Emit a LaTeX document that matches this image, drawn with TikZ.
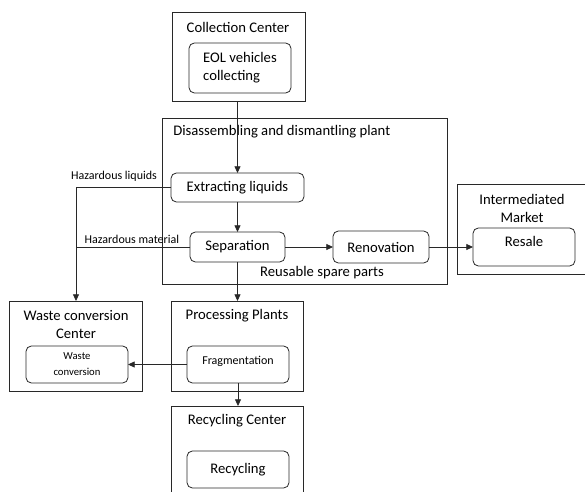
\documentclass[tikz,border=0pt]{standalone}
\usepackage{fontspec}
\setmainfont{Carlito}
\usepackage{xcolor}
\definecolor{linea}{RGB}{40, 40, 40}
\usetikzlibrary{arrows.meta, positioning}

\begin{document}
\begin{tikzpicture}[
  x=0.75pt, y=-0.75pt,
  zona/.style={rectangle, draw=linea, line width=0.6pt, inner sep=0pt, outer sep=0pt},
  tarea/.style={rectangle, rounded corners=4pt, draw=linea, line width=0.6pt, inner sep=0pt, outer sep=0pt, font=\fontsize{11}{13.5}\selectfont, align=center},
  titulo/.style={font=\fontsize{11}{13.5}\selectfont, align=center, inner sep=0pt},
  etiq/.style={font=\fontsize{9}{11}\selectfont, inner sep=0pt},
  flujo/.style={-{Triangle[length=5pt, width=4.5pt]}, draw=linea, line width=0.6pt},
  tramo/.style={draw=linea, line width=0.6pt}
]
  \useasboundingbox (0,0) rectangle (585,492);
  \clip (0,0) rectangle (585,492);

  % contenedores
  \node[zona, minimum width=99.75pt, minimum height=66.75pt] (cc) at (238.5,56.5) {};
  \node[zona, minimum width=213.75pt, minimum height=124.5pt] (dp) at (304.5,201) {};
  \node[zona, minimum width=96pt, minimum height=67.5pt] (im) at (521,229) {};
  \node[zona, minimum width=99.75pt, minimum height=67.5pt] (wc) at (75.5,346) {};
  \node[zona, minimum width=99pt, minimum height=67.5pt] (pp) at (237,346) {};
  \node[zona, minimum width=99pt, minimum height=70.5pt] (rc) at (237,453) {};

  % titulos
  \node[titulo] (tcc) at (238,27) {Collection Center};
  \node[titulo, anchor=west] (tdp) at (173,132) {Disassembling and dismantling plant};
  \node[titulo] (tim) at (522,208) {Intermediated\\Market};
  \node[titulo] (twc) at (76,325) {Waste conversion\\Center};
  \node[titulo] (tpp) at (237,316) {Processing Plants};
  \node[titulo] (trc) at (237,421) {Recycling Center};

  % tareas
  \node[tarea, align=left, minimum width=76.5pt, minimum height=37.5pt] (eol) at (240,68) {EOL vehicles\\collecting};
  \node[tarea, minimum width=99.75pt, minimum height=21.75pt] (ext) at (237.5,187.5) {Extracting liquids};
  \node[tarea, minimum width=71.25pt, minimum height=22.5pt] (sep) at (237.5,247) {Separation};
  \node[tarea, minimum width=72pt, minimum height=24pt] (ren) at (381,247) {Renovation};
  \node[tarea, text depth=8pt, minimum width=76.5pt, minimum height=28.5pt] (res) at (524,247) {Resale};
  \node[tarea, font=\fontsize{8}{12}\selectfont, minimum width=76.5pt, minimum height=27.75pt] (wconv) at (77,364.5) {Waste\\conversion};
  \node[tarea, font=\fontsize{9}{11}\selectfont, text depth=6pt, minimum width=76.5pt, minimum height=27.75pt] (frag) at (238,364.5) {Fragmentation};
  \node[tarea, minimum width=76.5pt, minimum height=27.75pt] (rec) at (238,469.5) {Recycling};

  \node[titulo] (rsp) at (322,273) {Reusable spare parts};

  \coordinate (esq1) at (76,187.5);
  \coordinate (esq2) at (76,247);

  % flujos
  \draw[flujo] (cc.south -| ext.north) -- (ext.north);
  \draw[flujo] (ext) -- (sep);
  \draw[flujo] (sep.south) -- (sep.south |- pp.north);
  \draw[flujo] (sep) -- (ren);
  \draw[flujo] (ren) -- (res);
  \draw[flujo] (frag) -- (wconv);
  \draw[flujo] (frag.south) -- (frag.south |- rc.north);
  \draw[flujo] (ext.west) -- node[etiq, pos=0.6, above=4pt] (lhl) {Hazardous liquids} (esq1) -- (esq1 |- wc.north);
  \draw[tramo] (sep.west) -- node[etiq, pos=0.51, above=2pt] (lhm) {Hazardous material} (esq2);
\end{tikzpicture}
\end{document}
